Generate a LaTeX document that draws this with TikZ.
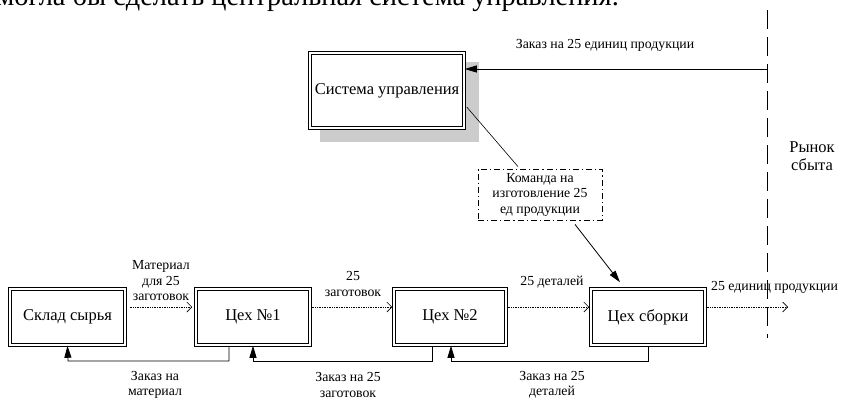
\documentclass[tikz,border=0pt]{standalone}
\usepackage{fontspec}
\setmainfont{Liberation Serif}
\usetikzlibrary{arrows.meta,calc}
\newcommand{\bigf}{\fontsize{16.5}{19}\selectfont}
\newcommand{\smallf}{\fontsize{13.8}{15.5}\selectfont}
\tikzset{
  shop/.style={draw=black, double=white, double distance=1.6pt, line width=1pt,
    minimum height=56.5pt, inner sep=0pt, font=\bigf},
  lbl/.style={font=\smallf, align=center, inner sep=0pt},
  flow/.style={densely dotted, line width=0.7pt, -{Straight Barb[length=5pt,width=10pt]}},
  order/.style={line width=0.8pt, -{Triangle[length=12pt,width=7pt]}},
  cmdbox/.style={draw=black, line width=0.8pt, dash pattern=on 6pt off 3pt on 1.2pt off 3pt,
    minimum width=124pt, minimum height=51pt, inner sep=0pt, font=\smallf, align=center},
  border/.style={line width=0.9pt, dash pattern=on 19pt off 8pt}
}
\begin{document}
\begin{tikzpicture}[x=1pt,y=-1pt]
\useasboundingbox (0,0) rectangle (841,400);
\clip (0,0) rectangle (841,400);
% cut-off text line at top
\node[anchor=base east, inner sep=0pt, font=\fontsize{28.4}{32}\selectfont] (toptext) at (619,5.5) {могла бы сделать центральная система управления.};
% control system with shadow
\fill[black!20] (320,62) rectangle (479,142);
\node[shop, minimum width=154.5pt, minimum height=75.5pt, fill=white] (sys) at (387,90.5) {Система управления};
% shops
\node[shop, minimum width=115.5pt] (sklad) at (67.5,317) {Склад сырья};
\node[shop, minimum width=114.5pt] (c1) at (253,317) {Цех №1};
\node[shop, minimum width=112.5pt] (c2) at (450,317) {Цех №2};
\node[shop, minimum width=114.5pt] (sb) at (648,317) {Цех сборки};
% market border
\coordinate (btop) at (767,10);
\coordinate (bbot) at (767,338);
\draw[border] (btop) -- (bbot);
\node[font=\bigf, align=center, inner sep=0pt] (market) at (812,156) {Рынок\\[-1pt]сбыта};
% order from market
\coordinate (mk) at (767,69);
\draw[order] (mk) -- (mk -| sys.east);
\node[lbl] (lorder) at (605,45) {Заказ на 25 единиц продукции};
% command box
\node[cmdbox] (cmd) at (540,194.5) {Команда на\\изготовление 25\\ед продукции};
\draw[line width=0.6pt] ($(sys.east)+(2,16.5)$) -- ($(cmd.north)+(-22,-2)$);
\draw[order] ($(cmd.south)+(35,4)$) -- ($(sb.north)+(-28,-6)$);
% material flows
\coordinate (fo) at (0,307);
\draw[flow] (sklad.east |- fo) ++(4,0) -- ($(c1.west |- fo)+(-3,0)$);
\draw[flow] (c1.east |- fo) ++(1,0) -- ($(c2.west |- fo)+(-1,0)$);
\draw[flow] (c2.east |- fo) ++(1,0) -- ($(sb.west |- fo)+(-1,0)$);
\coordinate (out) at (788,307);
\draw[flow] (sb.east |- fo) ++(1,0) -- (out);
\node[lbl] (l1) at (161,281) {Материал\\для 25\\заготовок};
\node[lbl] (l2) at (353,284) {25\\заготовок};
\node[lbl] (l3) at (552,282) {25 деталей};
\node[lbl, anchor=west] (l4) at (711,287) {25 единиц продукции};
% order feedback lines
\draw[order] ($(c1.south)+(-24,0)$) |- (68,361) -- (sklad.south);
\draw[order] ($(c2.south)+(-18,0)$) |- (253,361) -- (c1.south);
\draw[order] (sb.south) |- (451,361) -- ($(c2.south)+(1,0)$);
\node[lbl] (o1) at (155,385) {Заказ на\\материал};
\node[lbl] (o2) at (348,385) {Заказ на 25\\заготовок};
\node[lbl] (o3) at (552,385) {Заказ на 25\\деталей};
\end{tikzpicture}
\end{document}
